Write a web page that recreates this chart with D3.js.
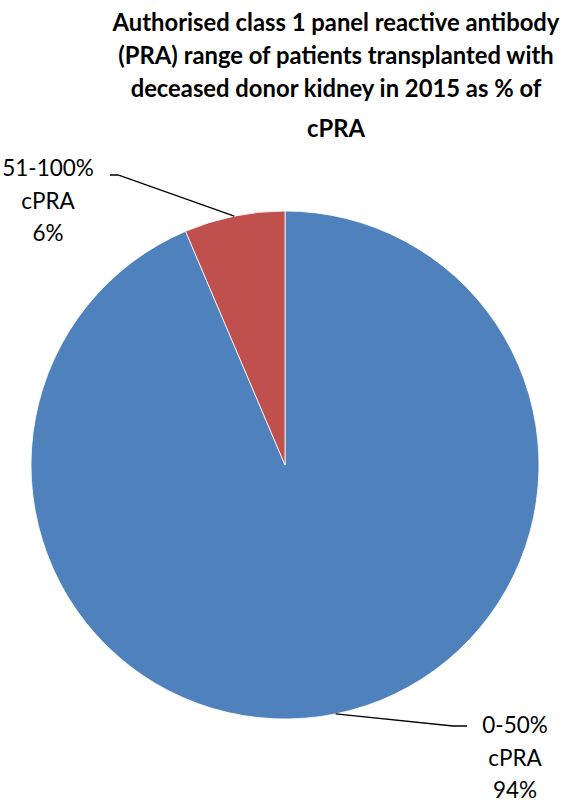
<!DOCTYPE html>
<html>
<head>
<meta charset="utf-8">
<title>PRA pie</title>
<script src="https://d3js.org/d3.v7.min.js"></script>
<style>
    body { margin: 0; background: #fff; }
    .title { font-family: Lato, 'Open Sans', sans-serif; font-weight: 700; font-size: 23.8px; fill: #000; }
    .label { font-family: Lato, 'Open Sans', sans-serif; font-size: 22.5px; fill: #000; }
    .leader { fill: none; stroke: #000; stroke-width: 1.3px; }
</style>
</head>
<body>
<svg id="chart" width="576" height="800"></svg>
<script>
    // data
    const categories = ["0-50% cPRA", "51-100% cPRA"];
    const values = [93.6, 6.4];
    const colors = ["#4F81BD", "#C0504D"];
    const titleLines = [
        "Authorised class 1 panel reactive antibody",
        "(PRA) range of patients transplanted with",
        "deceased donor kidney in 2015 as % of",
        "cPRA"
    ];

    var svg = d3.select("#chart");
    const cx = 285, cy = 465, radius = 254;

    // title
    var title = svg.append("text").attr("class", "title").attr("text-anchor", "middle");
    var titleY = [31, 64, 97, 137];
    titleLines.forEach((t, i) => {
        title.append("tspan").attr("x", 336).attr("y", titleY[i]).text(t);
    });

    var pie = d3.pie().sort(null).value(d => d);
    var arcs = pie(values);
    var arc = d3.arc().innerRadius(0).outerRadius(radius);

    var g = svg.append("g").attr("transform", "translate(" + cx + "," + cy + ")");
    g.selectAll("path")
        .data(arcs)
        .enter()
        .append("path")
        .attr("d", arc)
        .style("fill", (d, i) => colors[i])
        .style("stroke", "#fff")
        .style("stroke-width", 0.8);

    // label layout: elbow offset from centre, text offset from elbow
    const labelLayout = [
        { elbow: [168, 261], tail: 14, tx: 48, ty: 7, anchor: "middle" },
        { elbow: [-167, -290], tail: -8, tx: -62, ty: 1, anchor: "middle" }
    ];
    const total = d3.sum(values);

    arcs.forEach((d, i) => {
        var a = (d.startAngle + d.endAngle) / 2;
        var start = [Math.sin(a) * radius, -Math.cos(a) * radius];
        var L = labelLayout[i];
        var e = L.elbow;
        g.append("path")
            .attr("class", "leader")
            .attr("d", d3.line()([start, e, [e[0] + L.tail, e[1]]]));
        var parts = categories[i].split(" ");
        parts.push(Math.round(values[i] / total * 100) + "%");
        var txt = g.append("text").attr("class", "label").attr("text-anchor", L.anchor);
        parts.forEach((p, j) => {
            txt.append("tspan")
                .attr("x", e[0] + L.tail + L.tx)
                .attr("y", e[1] + L.ty + j * 32.5)
                .text(p);
        });
    });
</script>
</body>
</html>
